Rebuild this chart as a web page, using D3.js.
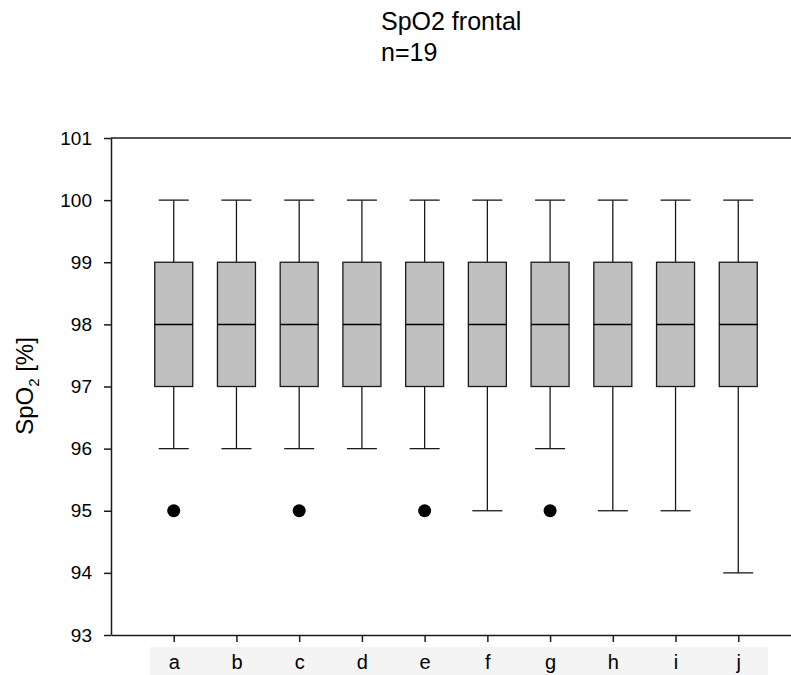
<!DOCTYPE html>
<html>
<head>
<meta charset="utf-8">
<script src="https://cdn.jsdelivr.net/npm/d3@7"></script>
<style>
  html, body { margin: 0; padding: 0; background: #fff; overflow: hidden; }
  svg { display: block; font-family: "Liberation Sans", Arial, sans-serif; }
</style>
</head>
<body>
<svg id="chart" width="791" height="675"></svg>
<script>
// ---- data ----
const categories = ["a", "b", "c", "d", "e", "f", "g", "h", "i", "j"];
const whiskerLow  = [96, 96, 96, 96, 96, 95, 96, 95, 95, 94];
const q1          = [97, 97, 97, 97, 97, 97, 97, 97, 97, 97];
const medians     = [98, 98, 98, 98, 98, 98, 98, 98, 98, 98];
const q3          = [99, 99, 99, 99, 99, 99, 99, 99, 99, 99];
const whiskerHigh = [100, 100, 100, 100, 100, 100, 100, 100, 100, 100];
const outliers    = [[95], [], [95], [], [95], [], [95], [], [], []];
const yTicks      = [93, 94, 95, 96, 97, 98, 99, 100, 101];
const titleLines  = ["SpO2 frontal", "n=19"];

const boxes = categories.map((c, i) => ({
  cat: c, lo: whiskerLow[i], q1: q1[i], med: medians[i], q3: q3[i], hi: whiskerHigh[i], out: outliers[i]
}));

// ---- layout ----
const plotL = 111, plotR = 801, plotT = 138, plotB = 635;
const svg = d3.select("#chart");

const x = d3.scalePoint().domain(categories).range([plotL, plotR]).padding(1);
const y = d3.scaleLinear().domain([93, 101]).range([plotB, plotT]);

const boxW = 38, capW = 30;
const ink = "#1a1a1a";

// title
titleLines.forEach((t, i) => {
  svg.append("text").attr("x", 381).attr("y", 30 + i * 31)
    .style("font-size", "25px").attr("fill", "#000").text(t);
});

// label band behind x labels
svg.append("rect").attr("x", 150).attr("y", 647).attr("width", 618).attr("height", 30)
  .attr("fill", "#f4f4f4");

// top frame line
svg.append("line").attr("x1", plotL).attr("x2", plotR).attr("y1", plotT).attr("y2", plotT)
  .attr("stroke", ink).attr("stroke-width", 1.5);

// y axis
const yAxis = svg.append("g").attr("transform", `translate(${plotL},0)`)
  .call(d3.axisLeft(y).tickValues(yTicks).tickFormat(d3.format("d")).tickSize(7).tickPadding(12).tickSizeOuter(0));
yAxis.select(".domain").attr("stroke", ink).attr("stroke-width", 1.5);
yAxis.selectAll(".tick line").attr("stroke", ink).attr("stroke-width", 1.5);
yAxis.selectAll(".tick text").style("font-size", "19px").attr("fill", "#000")
  .attr("font-family", "Liberation Sans, Arial, sans-serif");

// x axis
const xAxis = svg.append("g").attr("transform", `translate(0,${plotB})`)
  .call(d3.axisBottom(x).tickSize(7).tickPadding(13).tickSizeOuter(0));
xAxis.select(".domain").attr("stroke", ink).attr("stroke-width", 1.5);
xAxis.selectAll(".tick line").attr("stroke", ink).attr("stroke-width", 1.5);
xAxis.selectAll(".tick text").style("font-size", "20px").attr("fill", "#000")
  .attr("font-family", "Liberation Sans, Arial, sans-serif");

// y label
svg.append("text")
  .attr("transform", `translate(33,${386}) rotate(-90)`)
  .attr("text-anchor", "middle")
  .style("font-size", "24px").attr("fill", "#000")
  .call(t => {
    t.append("tspan").text("SpO");
    t.append("tspan").attr("dy", 6).style("font-size", "15px").text("2");
    t.append("tspan").attr("dy", -6).text(" [%]");
  });

// boxes
const g = svg.append("g");
const bg = g.selectAll("g.box").data(boxes).join("g").attr("class", "box");

// whiskers
bg.append("line").attr("x1", d => x(d.cat)).attr("x2", d => x(d.cat))
  .attr("y1", d => y(d.hi)).attr("y2", d => y(d.q3))
  .attr("stroke", ink).attr("stroke-width", 1.3);
bg.append("line").attr("x1", d => x(d.cat)).attr("x2", d => x(d.cat))
  .attr("y1", d => y(d.q1)).attr("y2", d => y(d.lo))
  .attr("stroke", ink).attr("stroke-width", 1.3);
bg.append("line").attr("x1", d => x(d.cat) - capW / 2).attr("x2", d => x(d.cat) + capW / 2)
  .attr("y1", d => y(d.hi)).attr("y2", d => y(d.hi))
  .attr("stroke", ink).attr("stroke-width", 1.3);
bg.append("line").attr("x1", d => x(d.cat) - capW / 2).attr("x2", d => x(d.cat) + capW / 2)
  .attr("y1", d => y(d.lo)).attr("y2", d => y(d.lo))
  .attr("stroke", ink).attr("stroke-width", 1.3);

// box
bg.append("rect").attr("x", d => x(d.cat) - boxW / 2).attr("width", boxW)
  .attr("y", d => y(d.q3)).attr("height", d => y(d.q1) - y(d.q3))
  .attr("fill", "#c0c0c0").attr("stroke", ink).attr("stroke-width", 1.3);

// median
bg.append("line").attr("x1", d => x(d.cat) - boxW / 2).attr("x2", d => x(d.cat) + boxW / 2)
  .attr("y1", d => y(d.med)).attr("y2", d => y(d.med))
  .attr("stroke", "#000").attr("stroke-width", 1.5);

// outliers
bg.selectAll("circle").data(d => d.out.map(v => ({ cat: d.cat, v }))).join("circle")
  .attr("cx", d => x(d.cat)).attr("cy", d => y(d.v)).attr("r", 6.5).attr("fill", "#000");
</script>
</body>
</html>
